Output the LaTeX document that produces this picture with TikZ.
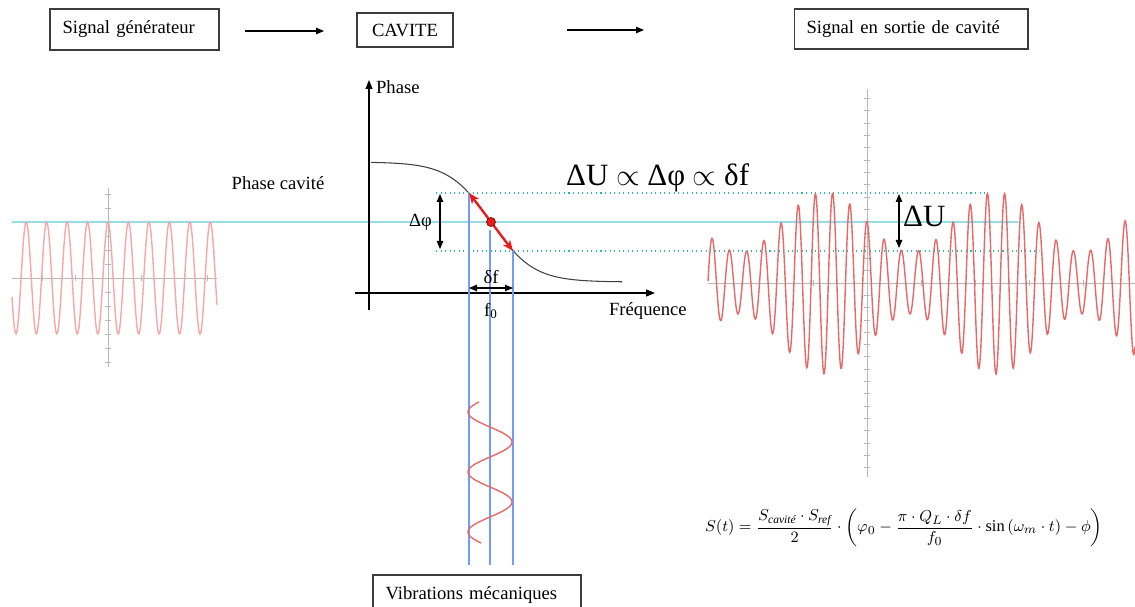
\documentclass[tikz,border=0pt]{standalone}
\usepackage{amsmath}
\usepackage{fontspec}
\setmainfont{Liberation Serif}
\usepackage{tikz}
\usetikzlibrary{positioning,arrows.meta}
\definecolor{sigred}{RGB}{230,105,105}
\definecolor{sigpale}{RGB}{246,168,168}
\definecolor{cyanref}{RGB}{150,222,228}
\definecolor{dotteal}{RGB}{40,190,165}
\definecolor{vblue}{RGB}{115,155,252}
\definecolor{arred}{RGB}{235,25,25}
\definecolor{boxgray}{RGB}{60,60,60}
\definecolor{axgray}{RGB}{185,185,185}

\begin{document}
\begin{tikzpicture}[
  x=0.02cm, y=-0.02cm,
  font=\fontsize{10.6}{12.7}\selectfont,
  box/.style={rectangle, draw=boxgray, line width=0.6pt, align=left,
    inner xsep=0.25cm, inner ysep=0pt},
  lbl/.style={inner sep=1pt},
  big/.style={inner sep=1pt, font=\fontsize{17.6}{20}\selectfont},
  arr/.style={-{Triangle[length=1.6mm,width=1.3mm]}, line width=0.6pt},
  dbl/.style={{Triangle[length=1.6mm,width=1.3mm]}-{Triangle[length=1.6mm,width=1.3mm]},
    line width=0.6pt},
  redarr/.style={{Stealth[length=2.2mm,width=1.8mm]}-{Stealth[length=2.2mm,width=1.8mm]},
    draw=arred, line width=1.3pt},
  axis/.style={-{Triangle[length=1.8mm,width=1.4mm]}, line width=0.7pt},
  ref/.style={draw=cyanref, line width=1.1pt},
  lvl/.style={draw=dotteal, line width=0.6pt, dotted},
  vib/.style={draw=vblue, line width=0.65pt},
  tick/.style={draw=axgray, line width=0.4pt},
  sig/.style={line width=0.8pt},
  dot/.style={circle, fill=arred, draw=arred!50!black, line width=0.4pt,
    minimum size=0.18cm, inner sep=0pt}
]
\useasboundingbox (0,0) rectangle (1135,607);

% chain of blocks on top
\node[box, text width=2.88cm, minimum height=0.82cm] (gen) at (134.5,29.5) {Signal générateur};
\node[box, text width=1.42cm, minimum height=0.68cm, align=center] (cav) at (405,30) {CAVITE};
\node[box, text width=4.18cm, minimum height=0.8cm] (out) at (911,29) {Signal en sortie de cavité};
\coordinate (a1s) at (245,31);
\coordinate (a1e) at (324,31);
\coordinate (a2s) at (567,30);
\coordinate (a2e) at (644,30);
\draw[arr] (a1s) -- (a1e);
\draw[arr] (a2s) -- (a2e);

% reference level of the generator
\coordinate (refL) at (12,222);
\coordinate (refR) at (1018,222);
\draw[ref] (refL) -- (refR);

% generator signal
\draw[tick] (12,278) -- (217,278);
\draw[tick] (108,188) -- (108,367);
\foreach \k in {-2,...,3}
  \draw[tick] ({108+33*\k},275) -- ({108+33*\k},281);
\foreach \k in {-6,...,6}
  \draw[tick] (105,{278+14*\k}) -- (111,{278+14*\k});
\draw[sig, sigpale] plot[domain=12:217, samples=400, smooth]
  (\x, {278-56*cos((\x-108)/20.45*360)});
\node[lbl] (phcav) at (278,183) {Phase cavité};

% phase response of the cavity
\coordinate (yax0) at (369,310);
\coordinate (yax1) at (369,80);
\coordinate (xax0) at (355,293);
\coordinate (xax1) at (655,293);
\draw[axis] (yax0) -- (yax1);
\draw[axis] (xax0) -- (xax1);
\node[lbl, anchor=west] (phlab) at (374,87) {Phase};
\node[lbl, anchor=west] (frlab) at (607,311) {Fréquence};
\draw[line width=0.6pt, black!75] plot[domain=371:622, samples=120, smooth]
  (\x, {222+60*tanh((\x-491)/42)});

\coordinate (pU) at (469,193);
\coordinate (pD) at (513,251);
\coordinate (lvU) at (436,193);
\coordinate (lvUe) at (988,193);
\coordinate (lvD) at (436,251);
\coordinate (lvDe) at (1039,251);
\draw[lvl] (lvU) -- (lvUe);
\draw[lvl] (lvD) -- (lvDe);

% delta phi
\coordinate (dpU) at (440,194);
\coordinate (dpD) at (440,249);
\draw[dbl] (dpU) -- (dpD);
\node[lbl, anchor=east] (dphi) at (434,222) {Δφ};

% vibration projections
\coordinate (vbL) at (469,565);
\coordinate (vbC0) at (490,230);
\coordinate (vbC) at (490,565);
\coordinate (vbR) at (513,565);
\draw[vib] (pU) -- (vbL);
\draw[vib] (vbC0) -- (vbC);
\draw[vib] (pD) -- (vbR);
\draw[sig, sigred] plot[domain=402:543, samples=150, smooth]
  ({490-22*cos((\x-412)/60*360)}, \x);

\draw[redarr] (pU) -- (pD);
\node[dot] (f0pt) at (491,222) {};

% delta f
\coordinate (dfL) at (469,288);
\coordinate (dfR) at (513,288);
\draw[dbl] (dfL) -- (dfR);
\node[lbl] (dflab) at (491,277) {δf};
\node[lbl] (f0lab) at (491,311) {f\textsubscript{0}};

\node[big, anchor=west] (rel) at (564,178) {ΔU $\propto$ Δφ $\propto$ δf};

% output signal
\draw[tick] (867,89) -- (867,477);
\draw[tick] (708,283) -- (1135,283);
\foreach \k in {-15,...,15}
  \draw[tick] (864,{283+12.3*\k}) -- (870,{283+12.3*\k});
\foreach \k in {-2,...,4}
  \draw[tick] ({867+54*\k},280) -- ({867+54*\k},286);
\draw[sig, sigred] plot[domain=708:1135, samples=1000]
  (\x, {283-(61+30*sin((\x-782)/171*360))*cos((\x-867)/17.2*360)});

\coordinate (dUU) at (899,194);
\coordinate (dUD) at (899,248);
\draw[dbl] (dUU) -- (dUD);
\node[big, anchor=west] (dUlab) at (901,216) {ΔU};

\node[lbl, anchor=west, font=\fontsize{9.35}{12}\selectfont] (eq) at (703,528)
  {$\displaystyle S(t)=\frac{S_{\text{\itshape cavité}}\cdot S_{\text{\itshape ref}}}{2}\cdot
   \left(\varphi_0-\frac{\pi\cdot Q_L\cdot\delta f}{f_0}\cdot\sin\left(\omega_m\cdot t\right)-\phi\right)$};

\node[box, text width=3.66cm, minimum height=0.8cm] (vibm) at (477,595) {Vibrations mécaniques};
\end{tikzpicture}
\end{document}
